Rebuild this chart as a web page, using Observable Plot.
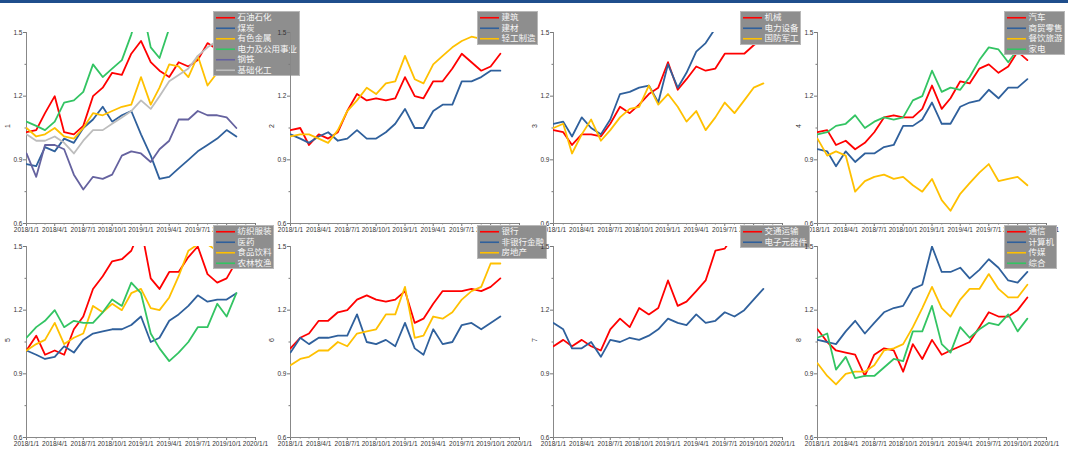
<!DOCTYPE html>
<html><head><meta charset="utf-8">
<script src="https://cdn.jsdelivr.net/npm/d3@7"></script>
<script src="https://cdn.jsdelivr.net/npm/@observablehq/plot@0.6"></script>
<style>
body{margin:0;background:#fff;}
#root{position:relative;width:1068px;height:453px;overflow:hidden;background:#fff;}
.topbar{position:absolute;left:0;top:0;width:1068px;height:3px;background:#1f4e8c;}
.panel{position:absolute;}
.panel svg{overflow:visible;background:transparent;max-width:none !important;}
.lg{position:absolute;}
</style>
</head><body>
<div id="root"><div class="topbar"></div></div>
<script>
const months = ["2018-01-01","2018-02-01","2018-03-01","2018-04-01","2018-05-01","2018-06-01","2018-07-01","2018-08-01","2018-09-01","2018-10-01","2018-11-01","2018-12-01","2019-01-01","2019-02-01","2019-03-01","2019-04-01","2019-05-01","2019-06-01","2019-07-01","2019-08-01","2019-09-01","2019-10-01","2019-11-01"];
const xTickLabels = ["2018-01-01","2018-04-01","2018-07-01","2018-10-01","2019-01-01","2019-04-01","2019-07-01","2019-10-01","2020-01-01"];
const yTicks = [0.6, 0.9, 1.2, 1.5];
const yMinorTicks = [0.75, 1.05, 1.35];
const palette = ["#ff0000", "#2f609c", "#ffc000", "#33c463", "#65629f", "#bdbdbd"];

// panel 1
const p1Names = ["石油石化","煤炭","有色金属","电力及公用事业","钢铁","基础化工"];
const p1_oil   = [1.03,1.04,1.12,1.20,1.03,1.02,1.06,1.20,1.24,1.31,1.30,1.40,1.46,1.36,1.32,1.29,1.36,1.34,1.37,1.45,1.42,1.46,1.44];
const p1_coal  = [0.88,0.87,0.96,0.94,1.00,0.98,1.05,1.09,1.15,1.08,1.11,1.13,1.02,0.92,0.81,0.82,0.86,0.90,0.94,0.97,1.00,1.04,1.01];
const p1_metal = [1.05,1.01,1.02,1.05,1.01,1.00,1.05,1.12,1.11,1.13,1.15,1.16,1.29,1.16,1.24,1.35,1.34,1.29,1.39,1.25,1.31,1.35,1.34];
const p1_power = [1.08,1.06,1.04,1.08,1.17,1.18,1.22,1.35,1.29,1.33,1.37,1.49,1.65,1.43,1.38,1.52,1.58,1.62,1.60,1.65,1.63,1.66,1.70];
const p1_steel = [0.93,0.82,0.97,0.97,0.95,0.83,0.76,0.82,0.81,0.83,0.92,0.94,0.93,0.89,0.95,0.99,1.09,1.09,1.13,1.11,1.11,1.10,1.05];
const p1_chem  = [1.02,0.99,0.99,1.01,0.98,0.93,0.99,1.04,1.04,1.07,1.10,1.13,1.18,1.14,1.20,1.27,1.30,1.33,1.39,1.43,1.46,1.43,1.41];
// panel 2
const p2Names = ["建筑","建材","轻工制造"];
const p2_build = [1.04,1.05,0.97,1.02,1.00,1.03,1.13,1.21,1.18,1.19,1.18,1.19,1.29,1.20,1.19,1.27,1.27,1.33,1.40,1.36,1.32,1.34,1.40];
const p2_mat   = [1.02,1.00,0.98,1.01,1.03,0.99,1.00,1.04,1.00,1.00,1.03,1.07,1.14,1.05,1.05,1.13,1.16,1.16,1.27,1.27,1.29,1.32,1.32];
const p2_light = [1.01,1.02,1.02,1.00,0.98,1.04,1.13,1.18,1.24,1.21,1.26,1.27,1.39,1.28,1.26,1.35,1.39,1.43,1.46,1.48,1.47,1.47,1.48];
// panel 3
const p3Names = ["机械","电力设备","国防军工"];
const p3_mach  = [1.04,1.03,0.97,1.02,1.02,1.01,1.07,1.15,1.12,1.16,1.21,1.24,1.36,1.23,1.28,1.34,1.32,1.33,1.40,1.40,1.40,1.44,1.47];
const p3_equip = [1.07,1.08,1.01,1.10,1.05,1.02,1.09,1.21,1.22,1.24,1.25,1.17,1.35,1.24,1.31,1.41,1.45,1.52,1.58,1.62,1.60,1.65,1.70];
const p3_def   = [1.05,1.07,0.93,1.02,1.09,0.99,1.04,1.10,1.14,1.15,1.25,1.16,1.21,1.15,1.08,1.13,1.04,1.10,1.17,1.12,1.18,1.24,1.26];
// panel 4
const p4Names = ["汽车","商贸零售","餐饮旅游","家电"];
const p4_auto   = [1.03,1.04,0.97,0.99,0.95,0.98,1.03,1.10,1.11,1.10,1.10,1.14,1.25,1.14,1.19,1.27,1.26,1.33,1.35,1.31,1.34,1.41,1.37];
const p4_retail = [0.95,0.94,0.87,0.94,0.89,0.93,0.93,0.96,0.97,1.06,1.06,1.09,1.17,1.07,1.07,1.15,1.17,1.18,1.23,1.19,1.24,1.24,1.28];
const p4_travel = [1.00,0.92,0.94,0.92,0.75,0.80,0.82,0.83,0.81,0.82,0.78,0.75,0.81,0.71,0.66,0.74,0.79,0.84,0.88,0.80,0.81,0.82,0.78];
const p4_appl   = [1.02,1.03,1.06,1.07,1.11,1.05,1.08,1.10,1.09,1.10,1.18,1.20,1.32,1.22,1.24,1.23,1.29,1.37,1.43,1.42,1.36,1.42,1.45];
// panel 5
const p5Names = ["纺织服装","医药","食品饮料","农林牧渔"];
const p5_textile = [1.01,1.08,0.99,1.01,0.99,1.11,1.17,1.30,1.36,1.43,1.44,1.48,1.59,1.35,1.30,1.38,1.38,1.45,1.50,1.37,1.33,1.35,1.43];
const p5_pharma  = [1.01,0.99,0.97,0.98,1.03,1.00,1.06,1.09,1.10,1.11,1.11,1.13,1.17,1.05,1.07,1.15,1.18,1.22,1.27,1.24,1.25,1.25,1.28];
const p5_food    = [1.01,1.04,1.06,1.14,1.04,1.07,1.09,1.22,1.19,1.23,1.20,1.28,1.30,1.21,1.20,1.26,1.36,1.48,1.51,1.51,1.48,1.50,1.52];
const p5_agri    = [1.07,1.12,1.15,1.20,1.12,1.15,1.14,1.14,1.19,1.25,1.22,1.33,1.28,1.09,1.02,0.96,1.00,1.05,1.12,1.12,1.23,1.17,1.28];
// panel 6
const p6Names = ["银行","非银行金融","房地产"];
const p6_bank   = [1.02,1.07,1.09,1.15,1.15,1.19,1.20,1.25,1.27,1.25,1.24,1.25,1.29,1.14,1.16,1.23,1.29,1.29,1.29,1.30,1.29,1.31,1.35];
const p6_nonbank= [1.00,1.07,1.04,1.07,1.07,1.08,1.08,1.18,1.05,1.04,1.06,1.03,1.14,1.02,0.99,1.11,1.04,1.05,1.13,1.14,1.11,1.14,1.17];
const p6_estate = [0.94,0.97,0.98,1.01,1.01,1.05,1.03,1.09,1.10,1.11,1.18,1.18,1.31,1.07,1.08,1.17,1.16,1.19,1.25,1.29,1.31,1.42,1.42];
// panel 7
const p7Names = ["交通运输","电子元器件"];
const p7_transp = [1.03,1.06,1.03,1.06,1.03,1.01,1.11,1.16,1.12,1.21,1.18,1.21,1.34,1.22,1.24,1.29,1.34,1.48,1.49,1.56,1.60,1.63,1.62];
const p7_elec   = [1.14,1.11,1.02,1.02,1.05,0.98,1.06,1.05,1.07,1.06,1.08,1.11,1.16,1.14,1.13,1.18,1.14,1.15,1.19,1.17,1.20,1.25,1.30];
// panel 8
const p8Names = ["通信","计算机","传媒","综合"];
const p8_telecom = [1.11,1.05,1.01,1.00,0.99,0.89,0.99,1.02,1.01,0.91,1.04,0.97,1.06,0.99,1.01,1.03,1.05,1.12,1.19,1.17,1.17,1.20,1.26];
const p8_comp    = [1.06,1.05,1.04,1.10,1.15,1.09,1.14,1.19,1.21,1.22,1.30,1.32,1.50,1.38,1.38,1.40,1.35,1.39,1.44,1.40,1.34,1.33,1.38];
const p8_media   = [0.95,0.89,0.85,0.90,0.91,0.91,0.94,1.01,1.02,1.04,1.12,1.21,1.31,1.21,1.17,1.25,1.30,1.30,1.37,1.30,1.26,1.26,1.32];
const p8_misc    = [1.07,1.09,0.92,0.98,0.88,0.89,0.89,0.93,0.97,0.96,1.10,1.10,1.22,1.04,1.00,1.12,1.07,1.11,1.14,1.13,1.18,1.10,1.16];

const panels = [
  {label:"1", names:p1Names, series:[p1_oil,p1_coal,p1_metal,p1_power,p1_steel,p1_chem], col:0, row:0},
  {label:"2", names:p2Names, series:[p2_build,p2_mat,p2_light], col:1, row:0},
  {label:"3", names:p3Names, series:[p3_mach,p3_equip,p3_def], col:2, row:0},
  {label:"4", names:p4Names, series:[p4_auto,p4_retail,p4_travel,p4_appl], col:3, row:0},
  {label:"5", names:p5Names, series:[p5_textile,p5_pharma,p5_food,p5_agri], col:0, row:1},
  {label:"6", names:p6Names, series:[p6_bank,p6_nonbank,p6_estate], col:1, row:1},
  {label:"7", names:p7Names, series:[p7_transp,p7_elec], col:2, row:1},
  {label:"8", names:p8Names, series:[p8_telecom,p8_comp,p8_media,p8_misc], col:3, row:1}
];

const colLefts = [0, 264, 527, 791];
const rowTops = [0, 214];
const rowHeights = [240, 239];
const legendTops = [11, 225];

const dates = months.map(d => new Date(d));
const xStart = new Date("2018-01-01"), xEnd = new Date("2020-01-01");
const majorX = xTickLabels.map(d => new Date(d));
const minorX = d3.utcMonth.range(xStart, xEnd).filter(d => d.getUTCMonth() % 3 !== 0);
const fmtX = d3.utcFormat("%Y/%-m/%-d");
const root = document.getElementById("root");

function legendPlot(names, colors) {
  const rowH = 10.5, fs = 8.5;
  const maxChars = d3.max(names, n => n.length);
  const W = Math.round(2 + 19 + 3 + maxChars * fs + 3);
  const H = Math.round(names.length * rowH + 2);
  const rows = names.map((n, i) => ({name: n, color: colors[i], y: 1 + rowH * (i + 0.5)}));
  const svg = Plot.plot({
    width: W, height: H, margin: 0,
    style: {background: "transparent", overflow: "visible", maxWidth: "none"},
    x: {domain: [0, W], range: [0, W], axis: null},
    y: {domain: [0, H], range: [0, H], axis: null},
    color: {type: "identity"},
    marks: [
      Plot.rect([0], {x1: 0.5, x2: W - 0.5, y1: 0.5, y2: H - 0.5, fill: "#8e8e8e", stroke: "#b8b8b8", strokeWidth: 1}),
      Plot.link(rows, {x1: 2.5, x2: 21.5, y1: "y", y2: "y", stroke: d => d.color, strokeWidth: 1.6}),
      Plot.text(rows, {x: 24, y: "y", text: "name", textAnchor: "start", fill: "#f6f6f6", fontSize: fs, fontFamily: "'Noto Sans CJK SC', sans-serif"})
    ]
  });
  return {svg, W, H};
}

panels.forEach(p => {
  const H = rowHeights[p.row];
  const data = [];
  p.series.forEach((vals, j) => vals.forEach((v, i) => data.push({date: dates[i], value: v, name: p.names[j]})));
  const colors = palette.slice(0, p.names.length);
  const chart = Plot.plot({
    width: 264, height: H,
    marginLeft: 26, marginRight: 9, marginTop: 32, marginBottom: H - 32 - 191,
    style: {background: "transparent", overflow: "visible", maxWidth: "none", fontFamily: "'Liberation Sans', Arial, sans-serif", fontSize: "6.5px", color: "#333"},
    x: {type: "utc", domain: [xStart, xEnd]},
    y: {domain: [0.6, 1.5]},
    color: {domain: p.names, range: colors},
    marks: [
      Plot.axisX({ticks: majorX, tickFormat: fmtX, tickSize: 3, tickPadding: 1, stroke: "#777", fill: "#333", label: null}),
      Plot.axisX({ticks: minorX, tickFormat: () => "", tickSize: 1.5, stroke: "#777", label: null}),
      Plot.axisY({ticks: yTicks, tickFormat: d3.format(".1f"), tickSize: 3, tickPadding: 1, stroke: "#777", fill: "#333", label: null}),
      Plot.axisY({ticks: yMinorTicks, tickFormat: () => "", tickSize: 1.5, stroke: "#777", label: null}),
      Plot.ruleY([0.6], {stroke: "#888", strokeWidth: 1}),
      Plot.ruleX([xStart], {stroke: "#888", strokeWidth: 1}),
      Plot.lineY(data, {x: "date", y: "value", stroke: "name", strokeWidth: 1.8, clip: true}),
      Plot.text([p.label], {text: d => d, frameAnchor: "left", rotate: -90, dx: -19, fontSize: 7, fill: "#333"})
    ]
  });
  const wrap = document.createElement("div");
  wrap.className = "panel";
  wrap.style.left = colLefts[p.col] + "px";
  wrap.style.top = rowTops[p.row] + "px";
  wrap.style.width = "264px";
  wrap.style.height = H + "px";
  wrap.appendChild(chart);
  const lg = legendPlot(p.names, colors);
  const lgWrap = document.createElement("div");
  lgWrap.className = "lg";
  lgWrap.style.left = "213px";
  lgWrap.style.top = (legendTops[p.row] - rowTops[p.row]) + "px";
  lgWrap.style.width = lg.W + "px";
  lgWrap.style.height = lg.H + "px";
  lgWrap.appendChild(lg.svg);
  wrap.appendChild(lgWrap);
  root.appendChild(wrap);
});
</script>
</body></html>
